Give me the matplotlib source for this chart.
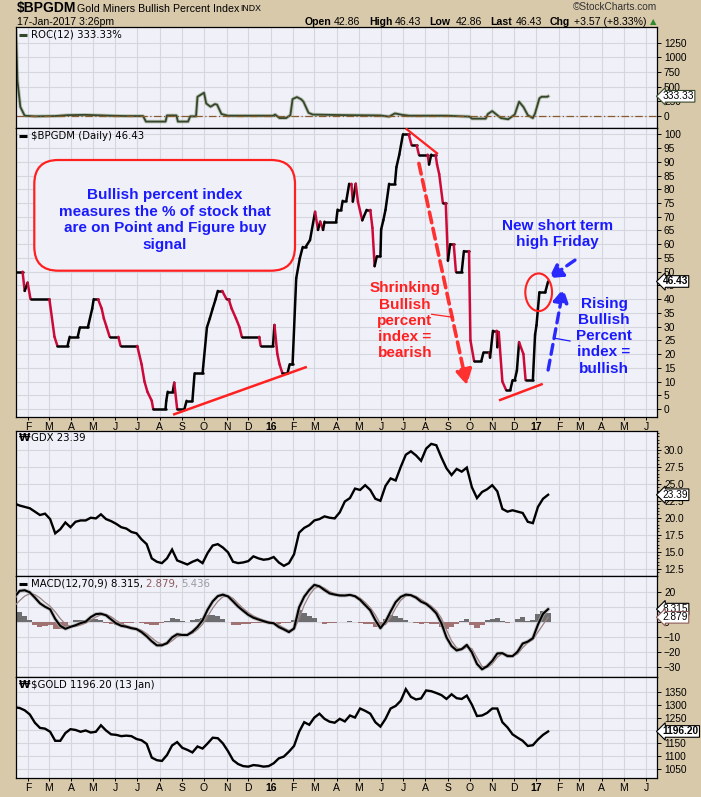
import numpy as np
import pandas as pd
import matplotlib
matplotlib.use('Agg')
import matplotlib.pyplot as plt
import matplotlib.dates as mdates
from matplotlib.collections import LineCollection
from matplotlib.patches import FancyBboxPatch, Ellipse
from matplotlib.lines import Line2D

plt.rcParams['font.family'] = ['Liberation Sans', 'DejaVu Sans']

# ---------------- data ----------------
# $BPGDM daily (step-like) turning points
bp_dates = ['2015-01-15', '2015-01-24', '2015-01-27', '2015-01-31', '2015-02-04', '2015-03-02',
            '2015-03-09', '2015-03-13', '2015-03-27', '2015-03-30', '2015-04-10', '2015-04-13',
            '2015-04-24', '2015-04-30', '2015-05-02', '2015-05-08', '2015-05-13', '2015-05-16',
            '2015-05-20', '2015-05-24', '2015-06-05', '2015-06-08', '2015-07-01', '2015-07-07',
            '2015-07-11', '2015-07-15', '2015-07-21', '2015-07-23', '2015-08-09', '2015-08-10',
            '2015-08-12', '2015-08-19', '2015-08-21', '2015-08-25', '2015-09-04', '2015-09-07',
            '2015-09-15', '2015-09-18', '2015-09-29', '2015-10-05', '2015-10-09', '2015-10-13',
            '2015-10-17', '2015-10-20', '2015-10-26', '2015-11-01', '2015-11-04', '2015-11-08',
            '2015-11-14', '2015-11-19', '2015-11-22', '2015-12-16', '2015-12-18', '2016-01-04',
            '2016-01-06', '2016-01-10', '2016-01-13', '2016-01-17', '2016-01-24', '2016-01-27',
            '2016-01-31', '2016-02-05', '2016-02-10', '2016-02-14', '2016-02-18', '2016-02-24',
            '2016-03-02', '2016-03-06', '2016-03-09', '2016-03-13', '2016-03-15', '2016-03-31',
            '2016-04-02', '2016-04-07', '2016-04-09', '2016-04-14', '2016-04-18', '2016-04-21',
            '2016-04-23', '2016-04-27', '2016-04-30', '2016-05-06', '2016-05-12', '2016-05-17',
            '2016-05-20', '2016-05-23', '2016-05-26', '2016-05-31', '2016-06-01', '2016-06-04',
            '2016-06-07', '2016-06-12', '2016-06-20', '2016-06-22', '2016-06-26', '2016-07-01',
            '2016-07-09', '2016-07-13', '2016-07-20', '2016-07-23', '2016-08-04', '2016-08-06',
            '2016-08-09', '2016-08-15', '2016-08-17', '2016-08-20', '2016-08-25', '2016-08-29',
            '2016-09-01', '2016-09-04', '2016-09-09', '2016-09-12', '2016-09-20', '2016-09-23',
            '2016-09-30', '2016-10-02', '2016-10-07', '2016-10-17', '2016-10-20', '2016-10-28',
            '2016-10-29', '2016-11-02', '2016-11-07', '2016-11-08', '2016-11-10', '2016-11-15',
            '2016-11-20', '2016-11-26', '2016-11-29', '2016-12-02', '2016-12-05', '2016-12-08',
            '2016-12-14', '2016-12-17', '2016-12-27', '2016-12-30', '2017-01-01', '2017-01-03',
            '2017-01-05', '2017-01-13', '2017-01-17']
bp_values = [50, 50, 43, 46, 40, 40,
             26.3, 23, 23, 26.3, 26.3, 29.7,
             29.7, 36.6, 40, 40, 36.6, 33,
             29.7, 26.3, 26.3, 23, 23, 16.3,
             10, 6.3, 3, 0, 0, 3,
             6.3, 6.3, 9.6, 0, 0, 3,
             3, 13, 13, 29.7, 33, 36.6,
             40, 43, 43, 40, 40, 36.6,
             33, 29.7, 26.3, 26.3, 23, 23,
             30.6, 20, 16.3, 13, 13, 16.3,
             16.3, 47.6, 54.9, 59, 59, 61.5,
             71.8, 65.2, 68.2, 65.2, 68.2, 68.2,
             72.6, 72.6, 75.8, 75.8, 82, 82,
             75.5, 82, 75.5, 68.7, 72.5, 72.5,
             66, 52, 55.6, 55.6, 65.4, 68.7,
             72.5, 82, 82, 88, 92.6, 100,
             100, 96, 96, 92.6, 92.6, 89,
             92.6, 92.6, 89, 85.5, 75, 75,
             54, 60, 60, 50, 50, 57.5,
             57.5, 25, 17.5, 17.5, 20.6, 20.6,
             18.7, 28.5, 28.5, 22.5, 28, 10,
             7, 7, 10.5, 10.5, 14, 24.3,
             20, 10.5, 10.5, 27, 30.5, 36.5,
             42.5, 42.5, 46.43]

# ROC(12) of $BPGDM
roc_dates = ['2015-01-15', '2015-01-17', '2015-01-21', '2015-01-27', '2015-02-10', '2015-03-10',
             '2015-03-27', '2015-04-20', '2015-05-15', '2015-05-27', '2015-06-15', '2015-07-09',
             '2015-07-13', '2015-08-09', '2015-08-11', '2015-08-24', '2015-08-26', '2015-09-09',
             '2015-09-12', '2015-09-20', '2015-09-22', '2015-10-01', '2015-10-04', '2015-10-10',
             '2015-10-16', '2015-10-19', '2015-10-25', '2015-11-03', '2015-12-10', '2016-01-04',
             '2016-01-07', '2016-01-13', '2016-01-22', '2016-01-28', '2016-01-31', '2016-02-06',
             '2016-02-12', '2016-02-15', '2016-02-22', '2016-02-28', '2016-04-15', '2016-05-31',
             '2016-06-12', '2016-06-20', '2016-06-30', '2016-07-10', '2016-08-31', '2016-10-01',
             '2016-10-04', '2016-10-23', '2016-10-26', '2016-11-01', '2016-11-07', '2016-11-13',
             '2016-11-23', '2016-12-02', '2016-12-08', '2016-12-14', '2016-12-20', '2016-12-27',
             '2016-12-30', '2017-01-05', '2017-01-08', '2017-01-16', '2017-01-17']
roc_values = [1450, 600, 150, 0, -10, -5,
              10, 15, 5, 0, -5, -5,
              -100, -100, 5, 5, -100, -100,
              -10, -10, 325, 394, 211, 154,
              200, 190, 30, 0, 0, 0,
              20, -40, -40, 10, 285, 320,
              280, 240, 50, 20, 10, 5,
              -15, 40, 15, 0, 0, -15,
              -50, -50, 30, 80, 20, -40,
              -60, 20, 240, 150, 10, -40,
              40, 298, 325, 325, 333.33]

# weekly samples for GDX, MACD and $GOLD
week_dates = pd.date_range(end='2017-01-17', periods=106, freq='7D')

gdx_close = [22.1, 21.8, 21.6, 21.4, 20.9, 20.4, 20.6, 19.8, 17.7, 18.3,
             19.3, 18.6, 19.4, 19.6, 19.6, 20.0, 19.9, 20.5, 19.8, 19.5,
             19.1, 18.6, 18.4, 17.9, 17.7, 16.8, 16.1, 14.0, 13.5, 13.3,
             14.0, 15.3, 13.7, 13.4, 13.1, 13.5, 13.8, 13.3, 14.8, 15.9,
             16.1, 15.6, 14.9, 13.5, 13.3, 13.4, 13.6, 14.3, 14.0, 13.8,
             13.9, 14.2, 13.4, 12.9, 13.3, 14.6, 17.8, 18.5, 18.9, 19.6,
             19.8, 20.2, 20.0, 19.9, 20.8, 22.4, 22.9, 24.3, 24.1, 24.8,
             24.1, 22.8, 22.5, 24.7, 25.8, 25.5, 27.5, 29.3, 29.8, 29.2,
             28.4, 30.2, 30.9, 30.7, 28.9, 27.3, 26.3, 27.2, 26.8, 27.4,
             24.5, 22.9, 23.8, 24.2, 24.8, 23.9, 21.3, 20.9, 21.1, 20.9,
             20.7, 19.4, 19.2, 21.6, 22.8, 23.39]

gold_close = [1290, 1287, 1278, 1262, 1230, 1210, 1207, 1195, 1160, 1160,
              1190, 1205, 1202, 1195, 1200, 1192, 1195, 1220, 1200, 1185,
              1183, 1178, 1180, 1178, 1167, 1162, 1148, 1095, 1085, 1082,
              1105, 1142, 1155, 1133, 1125, 1115, 1138, 1130, 1150, 1172,
              1170, 1150, 1120, 1085, 1070, 1062, 1060, 1066, 1064, 1060,
              1062, 1073, 1092, 1099, 1118, 1140, 1195, 1232, 1222, 1250,
              1265, 1245, 1234, 1230, 1245, 1235, 1258, 1250, 1285, 1276,
              1265, 1232, 1215, 1245, 1285, 1295, 1315, 1360, 1330, 1320,
              1324, 1355, 1352, 1345, 1337, 1322, 1340, 1325, 1322, 1335,
              1300, 1256, 1258, 1268, 1285, 1285, 1232, 1212, 1185, 1172,
              1160, 1140, 1143, 1165, 1183, 1196.2]

macd_line = [16.5, 20.5, 20.9, 19.5, 16.0, 12.2, 9.9, 8.2, 1.8, -2.8,
             -4.8, -3.5, -2.4, -1.0, 0.0, 3.0, 5.0, 5.3, 4.2, 1.5,
             -1.2, -2.8, -3.4, -4.4, -5.0, -7.0, -9.8, -13.1, -15.8, -15.8,
             -14.3, -10.5, -8.4, -8.9, -8.9, -6.7, -3.5, 0.9, 8.0, 13.5,
             17.0, 18.0, 16.8, 13.5, 10.0, 7.2, 4.5, 2.6, 1.4, 0.3,
             -0.7, -1.1, -3.6, -5.2, -7.0, -4.5, 9.5, 16.6, 21.1, 24.5,
             23.5, 21.0, 18.8, 18.0, 17.4, 17.4, 17.8, 16.9, 14.5, 11.0,
             7.5, 1.0, -4.4, 0.0, 6.7, 13.0, 16.5, 18.0, 17.6, 16.0,
             13.3, 11.8, 9.0, 5.5, -1.1, -10.5, -16.3, -19.2, -18.3, -15.5,
             -20.5, -28.2, -31.8, -29.7, -26.2, -21.2, -21.0, -23.0, -23.0, -20.0,
             -14.6, -13.3, -11.0, -2.0, 5.2, 8.315]

macd_signal = [10.5, 14.0, 17.0, 18.6, 18.0, 15.8, 12.8, 10.3, 6.5, 2.0,
               -1.5, -3.2, -3.2, -2.3, -1.0, 1.0, 3.0, 4.5, 4.8, 3.3,
               0.8, -1.3, -2.8, -3.7, -4.5, -5.8, -8.0, -10.8, -13.5, -15.0,
               -15.0, -12.8, -10.0, -9.0, -8.8, -7.8, -5.3, -1.8, 3.5, 9.0,
               13.5, 16.5, 17.3, 15.5, 12.0, 8.8, 6.0, 3.8, 2.2, 0.9,
               -0.1, -0.8, -2.2, -4.2, -5.9, -5.5, 2.0, 11.0, 17.5, 22.0,
               23.6, 22.3, 20.0, 18.6, 17.8, 17.4, 17.6, 17.3, 15.7, 12.8,
               9.3, 4.5, -1.5, -2.0, 2.5, 9.0, 14.2, 17.0, 17.7, 16.8,
               14.8, 12.6, 10.4, 7.3, 2.3, -5.5, -12.8, -17.5, -18.7, -17.0,
               -18.0, -24.0, -29.8, -30.6, -28.2, -23.8, -21.2, -22.0, -23.0, -21.5,
               -17.4, -14.0, -12.0, -7.0, -2.0, 2.879]

month_letters = ['J', 'F', 'M', 'A', 'M', 'J', 'J', 'A', 'S', 'O', 'N', 'D']

# ---------------- styling ----------------
W, H = 701, 797
TAN = '#d9c9ab'
BG = '#f0f0f9'
GRID = '#d6d6de'
RED_LINE = '#cc0a3a'
RED = '#ff2020'
BLUE = '#1a1aff'

fig = plt.figure(figsize=(W / 100, H / 100), dpi=100, facecolor=TAN)


def fx(px):
    return px / W


def fy(py):
    return 1 - py / H


def panel(top, bot):
    return fig.add_axes([fx(16), fy(bot), 641 / W, (bot - top) / H])


x_left = mdates.date2num(pd.Timestamp('2015-01-15'))
x_right = mdates.date2num(pd.Timestamp('2017-06-16'))
month_ticks = pd.date_range('2015-02-01', '2017-06-01', freq='MS')
month_labels = [str(d.year)[2:] if d.month == 1 else month_letters[d.month - 1] for d in month_ticks]


def style(ax, yticks, show_x=False, fmt=None):
    ax.set_facecolor(BG)
    ax.set_xlim(x_left, x_right)
    ax.set_xticks(mdates.date2num(month_ticks))
    ax.set_yticks(yticks)
    ax.grid(True, color=GRID, lw=0.8)
    ax.set_axisbelow(True)
    ax.yaxis.tick_right()
    ax.tick_params(axis='y', direction='out', length=3, width=0.7, pad=2, labelsize=7.3)
    if fmt:
        ax.yaxis.set_major_formatter(plt.FormatStrFormatter(fmt))
    if show_x:
        ax.set_xticklabels(month_labels)
        ax.tick_params(axis='x', length=2, width=0.7, pad=1.5, labelsize=7.5)
        for lbl in ax.get_xticklabels():
            if lbl.get_text() in ('16', '17'):
                lbl.set_fontweight('bold')
    else:
        ax.tick_params(axis='x', length=0, labelbottom=False)
    for s in ax.spines.values():
        s.set_color('black')
        s.set_linewidth(0.9)


def tag(ax, y, txt, ec='black', bold=False):
    ax.annotate(txt, xy=(1, y), xycoords=('axes fraction', 'data'), xytext=(4, 0),
                textcoords='offset points', ha='left', va='center', fontsize=7.3,
                fontweight='bold' if bold else 'normal',
                bbox=dict(boxstyle='larrow,pad=0.08', fc='white', ec=ec, lw=0.8),
                annotation_clip=False, zorder=10)


def legend_text(ax, py, txt, icon='line', color='black'):
    if icon == 'line':
        fig.lines.append(Line2D([fx(19), fx(27)], [fy(py), fy(py)], transform=fig.transFigure,
                                color=color, lw=2.2, solid_capstyle='butt', zorder=20))
    else:
        fig.text(fx(18.5), fy(py), '\u20a9', fontsize=7.5, fontweight='bold', family='DejaVu Sans',
                 va='center', ha='left', zorder=20)
    fig.text(fx(31), fy(py), txt, fontsize=7.3, family='DejaVu Sans', va='center', ha='left', zorder=20)


def dnum(s):
    return mdates.date2num(pd.Timestamp(s))


# ---------------- ROC panel ----------------
ax_roc = panel(27, 128)
roc_x = mdates.date2num(pd.to_datetime(roc_dates))
ax_roc.plot(roc_x, roc_values, color='#9aa58a', lw=2.6, alpha=0.6)
ax_roc.plot(roc_x, roc_values, color='#34472a', lw=1.3)
ax_roc.axhline(0, color='#8b5a2b', lw=0.9, ls=(0, (6, 2, 1, 2)))
ax_roc.set_ylim(-210, 1520)
style(ax_roc, [0, 250, 500, 750, 1000, 1250])
tag(ax_roc, roc_values[-1], '333.33', ec='#34472a')
legend_text(ax_roc, 34.5, 'ROC(12) 333.33%', color='#34472a')

# ---------------- main $BPGDM panel ----------------
ax = panel(128, 417)
bx = mdates.date2num(pd.to_datetime(bp_dates))
by = np.array(bp_values)
segs = np.stack([np.column_stack([bx[:-1], by[:-1]]), np.column_stack([bx[1:], by[1:]])], axis=1)
seg_colors = np.where(np.diff(by) < 0, RED_LINE, 'black')
ax.add_collection(LineCollection(segs, colors=seg_colors, linewidths=1.8,
                                 capstyle='round', joinstyle='round', zorder=3))
ax.set_ylim(-2.9, 102.3)
style(ax, list(range(0, 101, 5)), show_x=True)
tag(ax, bp_values[-1], '46.43', bold=True)
legend_text(ax, 135.7, '$BPGDM (Daily) 46.43')

# trend lines
ax.plot([dnum('2015-08-21'), dnum('2016-02-18')], [-1.9, 15.2], color=RED, lw=1.8, zorder=4)
ax.plot([dnum('2016-07-06'), dnum('2016-08-17')], [101.9, 93.1], color=RED, lw=1.6, zorder=4)
ax.plot([dnum('2016-11-12'), dnum('2017-01-08')], [3.3, 9.0], color=RED, lw=1.8, zorder=4)

# dashed arrows
ax.annotate('', xy=(dnum('2016-09-27'), 8.7), xytext=(dnum('2016-07-23'), 89.4),
            arrowprops=dict(arrowstyle='-|>,head_length=0.9,head_width=0.5', color='#ff3030',
                            lw=2.6, linestyle=(0, (3, 1.6)), shrinkA=0, shrinkB=0), zorder=5)
ax.annotate('', xy=(dnum('2017-01-18'), 47.6), xytext=(dnum('2017-02-23'), 54.2),
            arrowprops=dict(arrowstyle='-|>,head_length=0.8,head_width=0.45', color='#2a2aff',
                            lw=2.4, linestyle=(0, (3, 1.8)), shrinkA=0, shrinkB=0), zorder=5)
ax.annotate('', xy=(dnum('2017-02-07'), 43.9), xytext=(dnum('2017-01-17'), 14.2),
            arrowprops=dict(arrowstyle='-|>,head_length=0.8,head_width=0.45', color='#2a2aff',
                            lw=2.4, linestyle=(0, (3, 1.8)), shrinkA=0, shrinkB=0), zorder=5)

# circle around the last move
ax.add_patch(Ellipse((dnum('2017-01-04'), 42.5), width=36.8, height=13.7, fill=False,
                     ec=RED, lw=1.5, zorder=5))

# rounded text box
box = FancyBboxPatch((fx(34.3), fy(270.7)), (295 - 34.3) / W, (270.7 - 160) / H,
                     boxstyle='round,pad=0,rounding_size=%f' % (24 / W), mutation_aspect=W / H,
                     transform=fig.transFigure, fc=BG, ec=RED, lw=1.6, zorder=6)
ax.add_patch(box)
fig.text(fx(165), fy(220), 'Bullish percent index\nmeasures the % of stock that\nare on Point and Figure buy\nsignal',
         ha='center', va='center', color=BLUE, fontsize=11, fontweight='bold', linespacing=1.22, zorder=21)
fig.text(fx(405), fy(320.8), 'Shrinking\nBullish\npercent\nindex =\nbearish',
         ha='center', va='center', color=RED, fontsize=11, fontweight='bold', linespacing=1.2, zorder=21)
fig.text(fx(557.3), fy(233.8), 'New short term\nhigh Friday',
         ha='center', va='center', color=BLUE, fontsize=11, fontweight='bold', linespacing=1.22, zorder=21)
fig.text(fx(604), fy(336.2), 'Rising\nBullish\nPercent\nindex =\nbullish',
         ha='center', va='center', color=BLUE, fontsize=11, fontweight='bold', linespacing=1.2, zorder=21)
fig.lines.append(Line2D([fx(431.7), fx(453.3)], [fy(314.3), fy(317.3)], transform=fig.transFigure,
                        color=RED, lw=0.9, zorder=21))
fig.lines.append(Line2D([fx(555), fx(570)], [fy(338.3), fy(341)], transform=fig.transFigure,
                        color=BLUE, lw=0.9, zorder=21))

# ---------------- GDX panel ----------------
ax_gdx = panel(431, 576)
wx = mdates.date2num(week_dates)
ax_gdx.plot(wx, gdx_close, color='black', lw=1.7, solid_joinstyle='miter')
ax_gdx.set_ylim(11.4, 32.8)
style(ax_gdx, np.arange(12.5, 30.1, 2.5), fmt='%.1f')
ax_gdx.set_yticks(np.arange(12.0, 32.6, 0.5), minor=True)
ax_gdx.tick_params(axis='y', which='minor', length=1.5, width=0.6, right=True, left=False)
tag(ax_gdx, gdx_close[-1], '23.39')
legend_text(ax_gdx, 438.3, 'GDX 23.39', icon='bars')

# ---------------- MACD panel ----------------
ax_macd = panel(576, 677)
macd_arr = np.array(macd_line)
sig_arr = np.array(macd_signal)
hist = macd_arr - sig_arr
ax_macd.bar(wx, hist, width=7, color=np.where(hist >= 0, '#6e6e70', '#a07272'), lw=0, zorder=2)
ax_macd.plot(wx, macd_arr, color='#b0b0b0', lw=2.8, alpha=0.7, zorder=3)
ax_macd.plot(wx, sig_arr, color='#9a8282', lw=0.9, zorder=4)
ax_macd.plot(wx, macd_arr, color='black', lw=1.5, zorder=5)
ax_macd.set_ylim(-36.9, 30.4)
style(ax_macd, [-30, -20, -10, 0, 10, 20])
tag(ax_macd, macd_line[-1], '8.315')
tag(ax_macd, macd_signal[-1], '2.879', ec='#8b5a5a')
fig.lines.append(Line2D([fx(19), fx(27)], [fy(584), fy(584)], transform=fig.transFigure,
                        color='black', lw=2.2, solid_capstyle='butt', zorder=20))
t1 = fig.text(fx(31), fy(584), 'MACD(12,70,9) 8.315, ', fontsize=7.3, family='DejaVu Sans',
              va='center', ha='left', zorder=20)
fig.canvas.draw()
bb = t1.get_window_extent()
t2 = fig.text(bb.x1 / fig.dpi / fig.get_figwidth(), fy(584), '2.879, ', fontsize=7.3, family='DejaVu Sans',
              va='center', ha='left', color='#8b5a5a', zorder=20)
fig.canvas.draw()
bb2 = t2.get_window_extent()
fig.text(bb2.x1 / fig.dpi / fig.get_figwidth(), fy(584), '5.436', fontsize=7.3, family='DejaVu Sans',
         va='center', ha='left', color='#9a9aa0', zorder=20)

# ---------------- $GOLD panel ----------------
ax_gold = panel(677, 778)
ax_gold.plot(wx, gold_close, color='black', lw=1.7, solid_joinstyle='miter')
ax_gold.set_ylim(1016, 1407)
style(ax_gold, list(range(1050, 1351, 50)), show_x=True)
tag(ax_gold, gold_close[-1], '1196.20', bold=True)
legend_text(ax_gold, 685, '$GOLD 1196.20 (13 Jan)', icon='bars')

# ---------------- header ----------------
fig.text(fx(17), fy(8), '$BPGDM', fontsize=10, fontweight='bold', va='center', ha='left')
fig.text(fx(77), fy(8.5), 'Gold Miners Bullish Percent Index', fontsize=7.7, va='center', ha='left')
fig.text(fx(240), fy(8.5), 'INDX', fontsize=6.3, va='center', ha='left')
fig.text(fx(657), fy(7.5), '\u00a9StockCharts.com', fontsize=7.3, va='center', ha='right', color='#333333')
fig.text(fx(17), fy(22), '17-Jan-2017 3:26pm', fontsize=7.6, va='center', ha='left')
header_bits = [(304.4, 'Open', True), (333.5, '42.86', False), (369.3, 'High', True),
               (394.8, '46.43', False), (428.8, 'Low', True), (455.7, '42.86', False),
               (490.2, 'Last', True), (515.7, '46.43', False), (549.7, 'Chg', True),
               (574.3, '+3.57 (+8.33%)', False)]
for px, txt, bold in header_bits:
    fig.text(fx(px), fy(22), txt, fontsize=7.6, fontweight='bold' if bold else 'normal',
             va='center', ha='left')
fig.text(fx(650), fy(21.5), '\u25b2', fontsize=6, family='DejaVu Sans', color='#2e8b2e',
         va='center', ha='left')

fig.savefig('out.png', dpi=100, facecolor=TAN)
